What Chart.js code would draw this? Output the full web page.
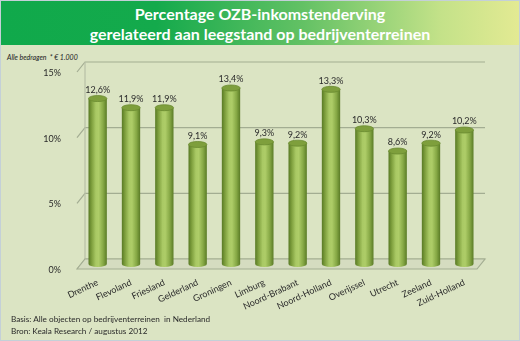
<!DOCTYPE html>
<html>
<head>
<meta charset="utf-8">
<script src="https://cdn.jsdelivr.net/npm/chart.js@4"></script>
<style>
  html, body { margin: 0; padding: 0; background: #dbe4c3; }
  #wrap { position: relative; width: 518px; height: 339px; border: 1px solid #c4d0d8; background: #dbe4c3; overflow: hidden; font-family: Lato, "Open Sans", sans-serif; }
  #head { position: absolute; left: 0; top: 0; width: 518px; height: 44px;
    background: linear-gradient(to right, #10a94b 0%, #14aa4c 30%, #62c164 58%, #c4e289 85%, #e3ea93 100%); }
  #title { position: absolute; left: 0; top: 3px; width: 518px; text-align: center; color: #fff; font-weight: 700; font-size: 16px; line-height: 20px; }
  #unit { position: absolute; left: 6px; top: 52px; font-size: 7px; font-style: italic; color: #222; }
  #chartBox { position: absolute; left: 0; top: 0; width: 518px; height: 339px; }
  .note { position: absolute; left: 10px; font-size: 8.2px; color: #2a2a2a; }
</style>
</head>
<body>
<div id="wrap">
  <div id="head"></div>
  <div id="title">Percentage OZB-inkomstenderving<br>gerelateerd aan leegstand op bedrijventerreinen</div>
  <div id="unit">Alle bedragen&nbsp; * € 1.000</div>
  <div id="chartBox"><canvas id="chart" width="518" height="339"></canvas></div>
  <div class="note" style="top:313px">Basis: Alle objecten op bedrijventerreinen&nbsp; in Nederland</div>
  <div class="note" style="top:325px">Bron: Keala Research / augustus 2012</div>
</div>
<script>
const provinces = ["Drenthe", "Flevoland", "Friesland", "Gelderland", "Groningen", "Limburg",
  "Noord-Brabant", "Noord-Holland", "Overijssel", "Utrecht", "Zeeland", "Zuid-Holland"];
const percentages = [12.6, 11.9, 11.9, 9.1, 13.4, 9.3, 9.2, 13.3, 10.3, 8.6, 9.2, 10.2];
const yTicks = [0, 5, 10, 15];

function fmt(v) {
  return v.toFixed(1).replace(".", ",") + "%";
}

// back wall, side wall and floor drawn a few pixels behind the bars
const wallPlugin = {
  id: "wall",
  beforeDatasetsDraw(chart) {
    const { ctx, chartArea, scales } = chart;
    const dx = 4, dy = 5;
    ctx.save();
    ctx.lineWidth = 1.2;
    ctx.strokeStyle = "#a3ad92";
    yTicks.forEach((t) => {
      const y = scales.y.getPixelForValue(t);
      ctx.beginPath();
      ctx.moveTo(chartArea.left - dx, y + dy);
      ctx.lineTo(chartArea.left + dx, y - dy);
      ctx.lineTo(chartArea.right + dx, y - dy);
      ctx.stroke();
    });
    // left wall edge
    ctx.strokeStyle = "#b7c0a6";
    ctx.beginPath();
    ctx.moveTo(chartArea.left + dx, scales.y.getPixelForValue(15) - dy);
    ctx.lineTo(chartArea.left + dx, scales.y.getPixelForValue(0) - dy);
    ctx.stroke();
    // floor
    const b = scales.y.getPixelForValue(0);
    ctx.fillStyle = "#d5dcc0";
    ctx.strokeStyle = "#a3ad92";
    ctx.beginPath();
    ctx.moveTo(chartArea.left - dx, b + dy);
    ctx.lineTo(chartArea.left + dx, b - dy);
    ctx.lineTo(chartArea.right + dx, b - dy);
    ctx.lineTo(chartArea.right - dx, b + dy);
    ctx.closePath();
    ctx.fill();
    ctx.stroke();
    ctx.restore();
  }
};

// cylinders and value labels
const cylinderPlugin = {
  id: "cylinder",
  afterDatasetsDraw(chart) {
    const { ctx } = chart;
    const meta = chart.getDatasetMeta(0);
    ctx.save();
    meta.data.forEach((bar, i) => {
      const w = bar.width, x0 = bar.x - w / 2, x1 = bar.x + w / 2;
      const top = bar.y, base = bar.base, ry = 3;
      const g = ctx.createLinearGradient(x0, 0, x1, 0);
      g.addColorStop(0, "#587a24");
      g.addColorStop(0.18, "#7fa03e");
      g.addColorStop(0.4, "#a9c964");
      g.addColorStop(0.55, "#aecd68");
      g.addColorStop(0.8, "#86a845");
      g.addColorStop(1, "#5a7b26");
      ctx.fillStyle = g;
      ctx.beginPath();
      ctx.moveTo(x0, top);
      ctx.lineTo(x0, base);
      ctx.ellipse(bar.x, base, w / 2, ry, 0, Math.PI, 0, true);
      ctx.lineTo(x1, top);
      ctx.closePath();
      ctx.fill();
      // top cap
      ctx.fillStyle = "#7e9f3c";
      ctx.beginPath();
      ctx.ellipse(bar.x, top, w / 2, ry, 0, 0, Math.PI * 2);
      ctx.fill();
      ctx.strokeStyle = "#6a8a30";
      ctx.lineWidth = 0.8;
      ctx.stroke();
      // label
      ctx.fillStyle = "#2a2a2a";
      ctx.font = "9px Lato, 'Open Sans', sans-serif";
      ctx.textAlign = "center";
      ctx.textBaseline = "bottom";
      ctx.fillText(fmt(percentages[i]), bar.x, top - ry - 1);
    });
    ctx.restore();
  }
};

new Chart(document.getElementById("chart"), {
  type: "bar",
  data: {
    labels: provinces,
    datasets: [{
      data: percentages,
      backgroundColor: "rgba(0,0,0,0)",
      categoryPercentage: 1,
      barPercentage: 0.55
    }]
  },
  options: {
    responsive: false,
    animation: false,
    events: [],
    layout: { padding: { top: 66, right: 38, bottom: 0, left: 0 } },
    plugins: { legend: { display: false }, tooltip: { enabled: false } },
    scales: {
      x: {
        grid: { display: false },
        border: { display: false },
        ticks: {
          color: "#2a2a2a",
          font: { family: "Lato, 'Open Sans', sans-serif", size: 9 },
          minRotation: 25,
          maxRotation: 25,
          padding: 5
        },
        afterFit(scale) { scale.height = 76; }
      },
      y: {
        min: 0,
        max: 15,
        grid: { display: false },
        border: { display: false },
        ticks: {
          stepSize: 5,
          color: "#2a2a2a",
          font: { family: "Lato, 'Open Sans', sans-serif", size: 9 },
          labelOffset: 6,
          padding: 12,
          callback: (v) => v + "%"
        },
        afterFit(scale) { scale.width = 80; }
      }
    }
  },
  plugins: [wallPlugin, cylinderPlugin]
});
</script>
</body>
</html>
